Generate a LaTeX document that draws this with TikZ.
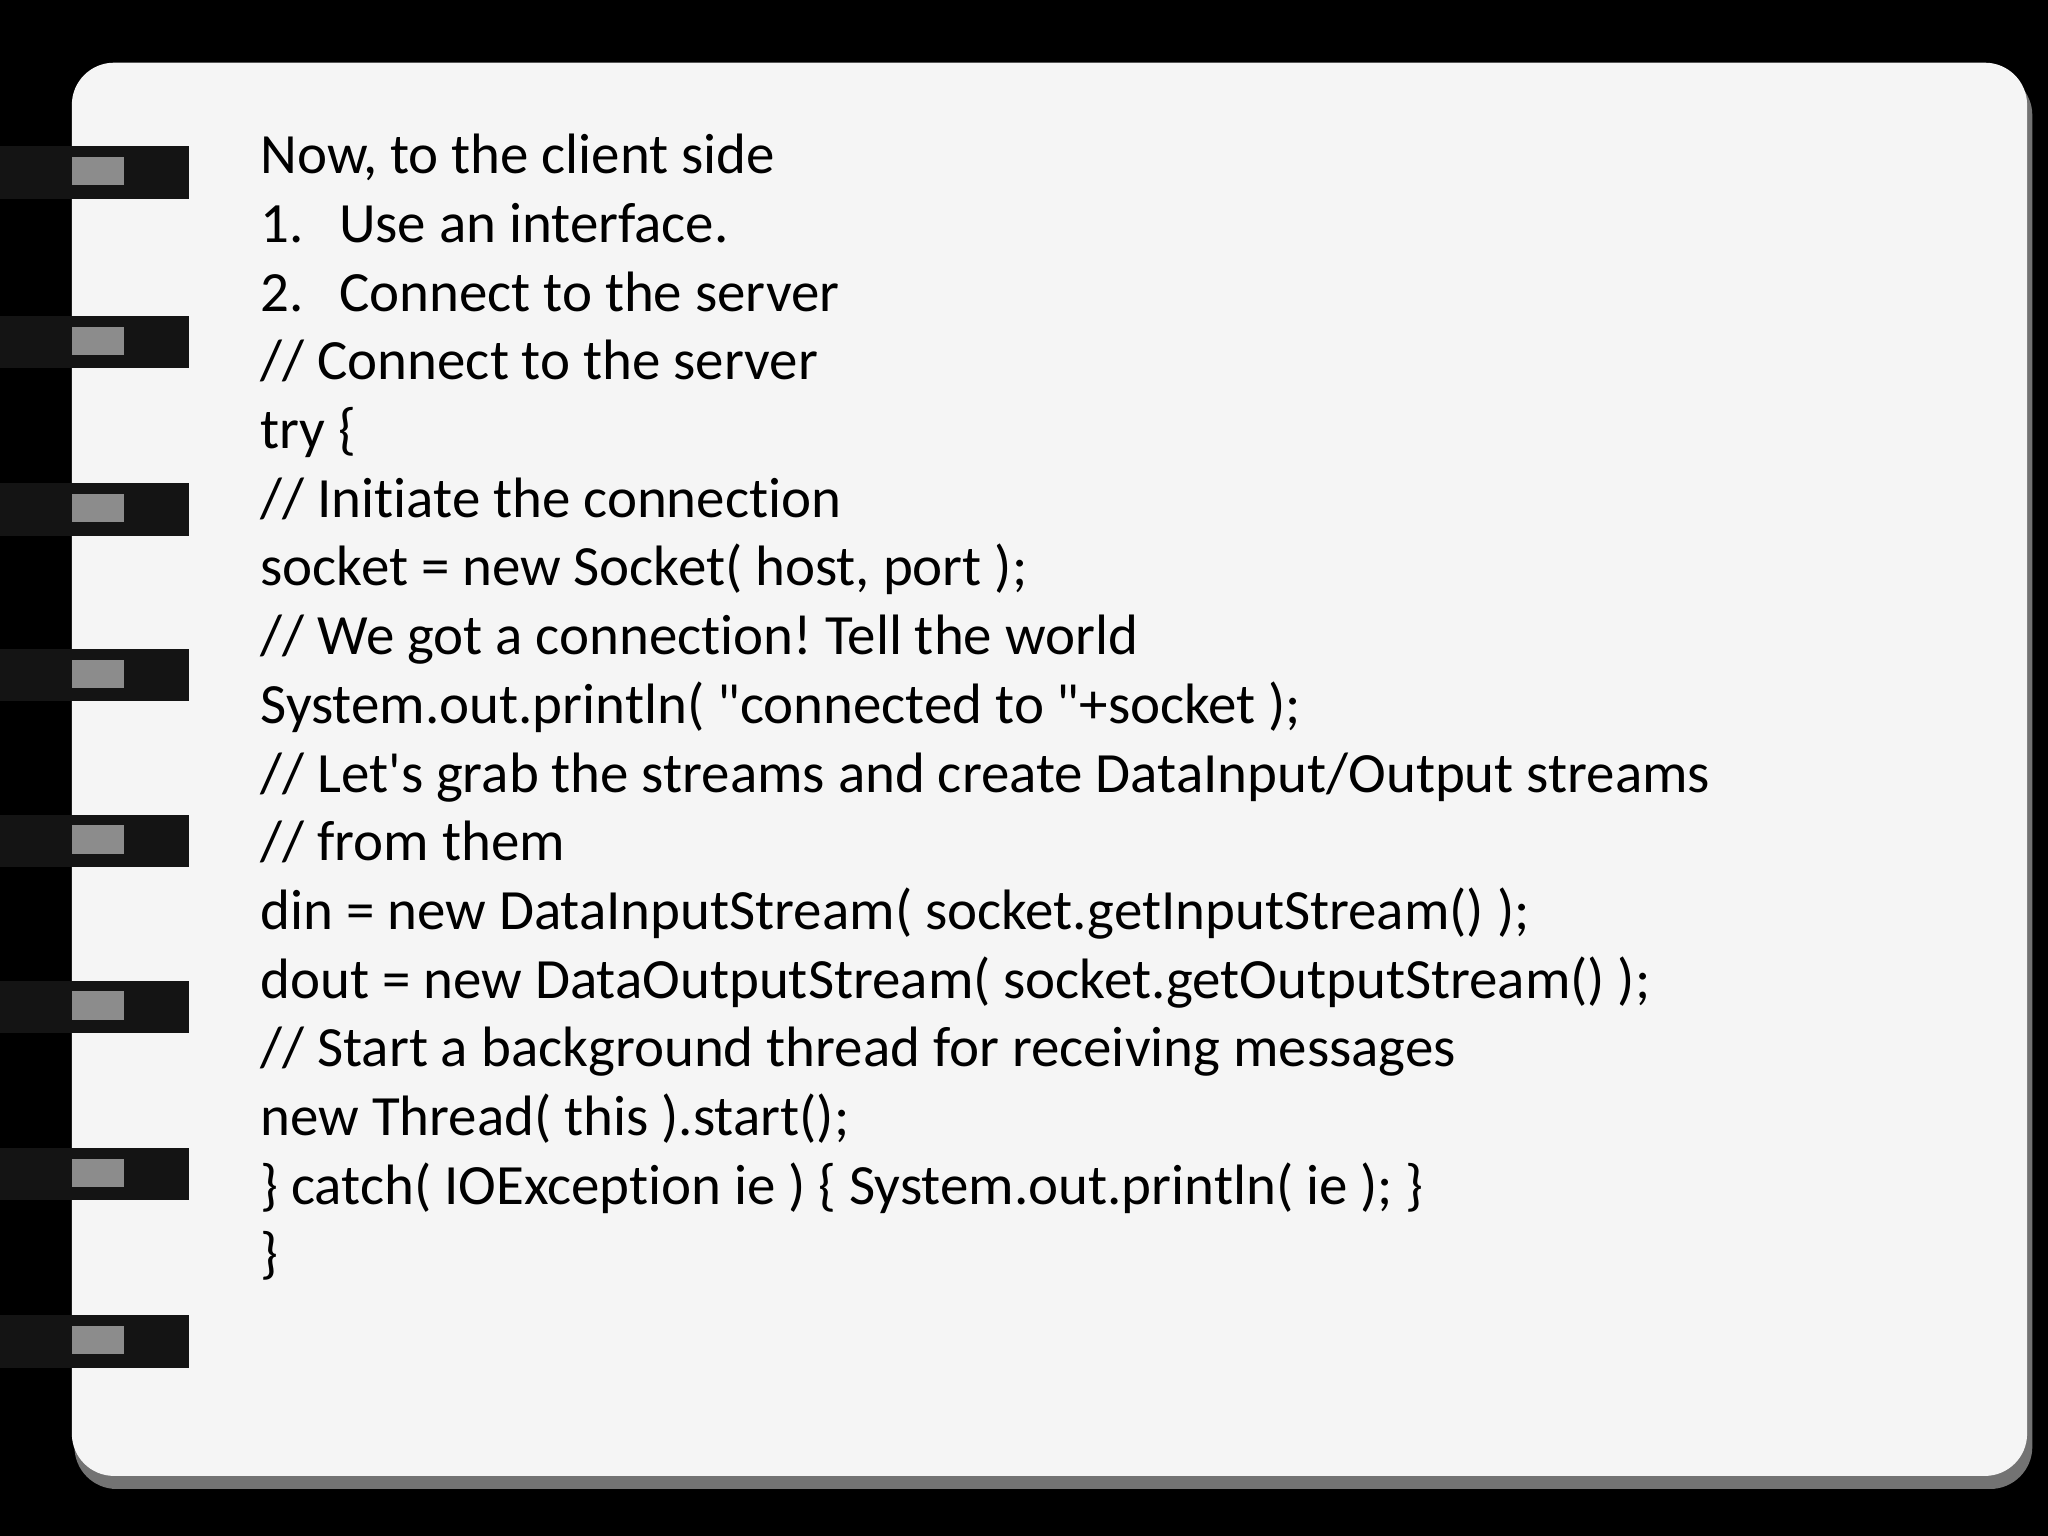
\documentclass[tikz,border=0pt]{standalone}
\usepackage{fontspec}
\setmainfont{Carlito}
\frenchspacing
\tikzset{
  codeline/.style={anchor=base west, inner sep=0pt, font=\fontsize{16.2pt}{19pt}\selectfont},
  ringbar/.style={fill=black!92},
  ringhole/.style={fill=black!45}
}
\def\lsep{52.6}
\def\ti{t\kern0pt i}
\begin{document}
\begin{tikzpicture}[x=0.01306cm,y=-0.01306cm]
  \useasboundingbox (0,0) rectangle (1568,1176);
  % background
  \fill[black] (0,0) rectangle (1568,1176);
  % page shadow and page
  \fill[black!55,rounded corners=12] (57,56) rectangle (1556,1140);
  \fill[white!96!black,rounded corners=12] (55,48) rectangle (1552,1130);
  % binder rings
  \foreach \ry in {132,262,390,517,644,771,899,1027}{
    \fill[ringbar] (0,\ry-20) rectangle (145,\ry+20);
    \fill[ringhole] (55,\ry-12) rectangle (95,\ry+10);
  }
  % text
  \node[codeline] (l1) at (199,133) {Now, to the client side};
  \node[codeline] (l2) at (199,133+\lsep) {1.\hspace{0.62em}Use an interface.};
  \node[codeline] (l3) at (199,133+2*\lsep) {2.\hspace{0.62em}Connect to the server};
  \node[codeline] (l4) at (199,133+3*\lsep) {// Connect to the server};
  \node[codeline] (l5) at (199,133+4*\lsep) {try \{};
  \node[codeline] (l6) at (199,133+5*\lsep) {// Ini\ti ate the connec\ti on};
  \node[codeline] (l7) at (199,133+6*\lsep) {socket = new Socket( host, port );};
  \node[codeline] (l8) at (199,133+7*\lsep) {// We got a connec\ti on! Tell the world};
  \node[codeline] (l9) at (199,133+8*\lsep) {System.out.println( \textquotedbl connected to \textquotedbl+socket );};
  \node[codeline] (l10) at (199,133+9*\lsep) {// Let\textquotesingle s grab the streams and create DataInput/Output streams};
  \node[codeline] (l11) at (199,133+10*\lsep) {// from them};
  \node[codeline] (l12) at (199,133+11*\lsep) {din = new DataInputStream( socket.getInputStream() );};
  \node[codeline] (l13) at (199,133+12*\lsep) {dout = new DataOutputStream( socket.getOutputStream() );};
  \node[codeline] (l14) at (199,133+13*\lsep) {// Start a background thread for receiving messages};
  \node[codeline] (l15) at (199,133+14*\lsep) {new Thread( this ).start();};
  \node[codeline] (l16) at (199,133+15*\lsep) {\} catch( IOExcep\ti on ie ) \{ System.out.println( ie ); \}};
  \node[codeline] (l17) at (199,133+16*\lsep) {\}};
\end{tikzpicture}
\end{document}
